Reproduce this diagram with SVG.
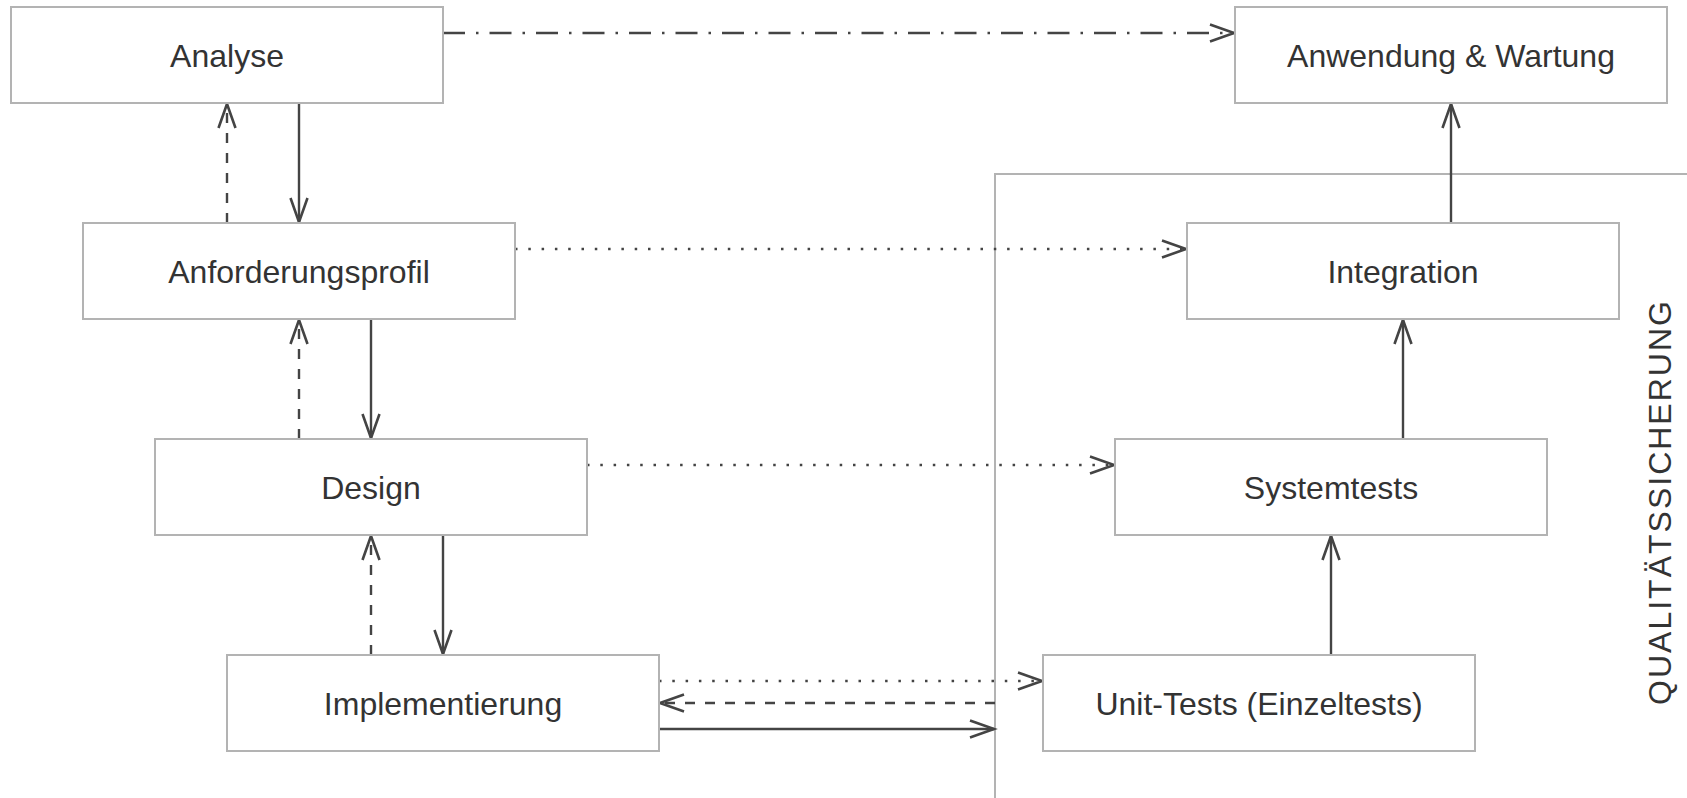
<svg xmlns="http://www.w3.org/2000/svg" width="1687" height="798" viewBox="0 0 1687 798">
<style>
.box{fill:#fff;stroke:#b3b3b3;stroke-width:2}
.lbl{font-family:"Liberation Sans",Arial,sans-serif;font-size:32px;fill:#333;text-anchor:middle}
.c{fill:none;stroke:#444;stroke-width:2.4}
.dash{stroke-dasharray:10 10}
.dot{stroke-dasharray:2.5 10.8}
.dashdot{stroke-dasharray:22 11 2.5 11}
.qs{fill:none;stroke:#b3b3b3;stroke-width:2}
</style>
<defs>
<marker id="arr" markerUnits="userSpaceOnUse" markerWidth="30" markerHeight="22" refX="26" refY="11" orient="auto" overflow="visible">
<path d="M2,2.5 L26,11 L2,19.5" fill="none" stroke="#444" stroke-width="2.6"/>
</marker>
</defs>
<rect width="1687" height="798" fill="#fff"/>
<g id="qualitaet">
<path class="qs" d="M995,798 V174 H1687"/>
<text class="lbl" transform="translate(1671,502) rotate(-90)" fill="#444" letter-spacing="2">QUALITÄTSSICHERUNG</text>
</g>
<g id="connectors">
<line class="c dashdot" x1="443" y1="33" x2="1234" y2="33" marker-end="url(#arr)"/>
<line class="c" x1="299" y1="103" x2="299" y2="222" marker-end="url(#arr)"/>
<line class="c dash" x1="227" y1="223" x2="227" y2="104" marker-end="url(#arr)"/>
<line class="c" x1="371" y1="319" x2="371" y2="438" marker-end="url(#arr)"/>
<line class="c dash" x1="299" y1="439" x2="299" y2="320" marker-end="url(#arr)"/>
<line class="c" x1="443" y1="535" x2="443" y2="654" marker-end="url(#arr)"/>
<line class="c dash" x1="371" y1="655" x2="371" y2="536" marker-end="url(#arr)"/>
<line class="c dot" x1="515" y1="249" x2="1186" y2="249" marker-end="url(#arr)"/>
<line class="c dot" x1="587" y1="465" x2="1114" y2="465" marker-end="url(#arr)"/>
<line class="c dot" x1="659" y1="681" x2="1042" y2="681" marker-end="url(#arr)"/>
<line class="c dash" x1="995" y1="703" x2="660" y2="703" marker-end="url(#arr)"/>
<line class="c" x1="659" y1="729" x2="994" y2="729" marker-end="url(#arr)"/>
<line class="c" x1="1331" y1="655" x2="1331" y2="536" marker-end="url(#arr)"/>
<line class="c" x1="1403" y1="439" x2="1403" y2="320" marker-end="url(#arr)"/>
<line class="c" x1="1451" y1="223" x2="1451" y2="104" marker-end="url(#arr)"/>
</g>
<g id="analyse"><rect class="box" x="11" y="7" width="432" height="96"/><text class="lbl" x="227" y="66.5">Analyse</text></g>
<g id="anwendung"><rect class="box" x="1235" y="7" width="432" height="96"/><text class="lbl" x="1451" y="66.5">Anwendung &amp; Wartung</text></g>
<g id="anforderungsprofil"><rect class="box" x="83" y="223" width="432" height="96"/><text class="lbl" x="299" y="282.5">Anforderungsprofil</text></g>
<g id="integration"><rect class="box" x="1187" y="223" width="432" height="96"/><text class="lbl" x="1403" y="282.5">Integration</text></g>
<g id="design"><rect class="box" x="155" y="439" width="432" height="96"/><text class="lbl" x="371" y="498.5">Design</text></g>
<g id="systemtests"><rect class="box" x="1115" y="439" width="432" height="96"/><text class="lbl" x="1331" y="498.5">Systemtests</text></g>
<g id="implementierung"><rect class="box" x="227" y="655" width="432" height="96"/><text class="lbl" x="443" y="714.5">Implementierung</text></g>
<g id="unittests"><rect class="box" x="1043" y="655" width="432" height="96"/><text class="lbl" x="1259" y="714.5">Unit-Tests (Einzeltests)</text></g>
</svg>
